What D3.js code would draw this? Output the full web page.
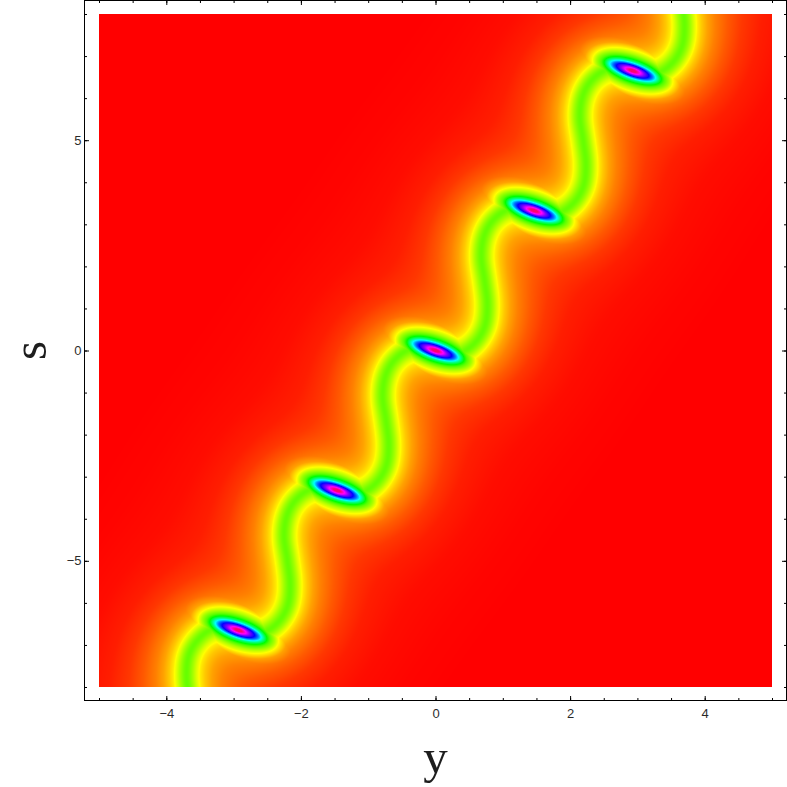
<!DOCTYPE html>
<html>
<head>
<meta charset="utf-8">
<style>
  html, body { margin: 0; padding: 0; background: #fff; }
  svg { display: block; }
  .tick text { font-family: "Liberation Sans", sans-serif; font-size: 13px; fill: #111; opacity: 0.9; }
  .axis-title { font-family: "Liberation Serif", serif; font-size: 49px; fill: #111; opacity: 0.95; }
</style>
</head>
<body>
<script src="https://cdn.jsdelivr.net/npm/d3@7"></script>
<script>
// ridge of the density (y, s)
// the ends run on past the frame so the glow does not fade at the edges
var ridgeY = [-4.395, -4.01, -3.79, -3.66, -3.61, -3.66, -3.70, -3.66, -3.52, -3.31, -2.93,
  -2.56, -2.34, -2.20, -2.16, -2.20, -2.25, -2.20, -2.07, -1.85, -1.465,
  -1.095, -0.875, -0.735, -0.695, -0.735, -0.785, -0.735, -0.605, -0.385, 0,
  0.37, 0.59, 0.73, 0.77, 0.73, 0.68, 0.73, 0.86, 1.08, 1.465,
  1.835, 2.055, 2.195, 2.235, 2.195, 2.145, 2.195, 2.325, 2.545, 2.93,
  3.30, 3.52, 3.66, 3.70, 3.66, 3.61, 3.66, 3.79, 4.01, 4.395];
var ridgeS = [-9.975, -10.0, -9.76, -9.41, -8.91, -8.31, -7.72, -7.22, -6.86, -6.62, -6.65,
  -6.70, -6.46, -6.08, -5.58, -4.99, -4.39, -3.89, -3.54, -3.30, -3.325,
  -3.375, -3.135, -2.755, -2.255, -1.665, -1.065, -0.565, -0.215, 0.025, 0,
  -0.05, 0.19, 0.57, 1.07, 1.66, 2.26, 2.76, 3.11, 3.35, 3.325,
  3.275, 3.515, 3.895, 4.395, 4.985, 5.585, 6.085, 6.435, 6.675, 6.65,
  6.60, 6.84, 7.22, 7.72, 8.31, 8.91, 9.41, 9.76, 10.0, 9.975];

// peaks along the ridge
var peakY = [-2.93, -1.465, 0, 1.465, 2.93];
var peakS = [-6.65, -3.325, 0, 3.325, 6.65];

// tick labels
var xMajor = [-4, -2, 0, 2, 4];
var xMinor = [-5, -4.5, -4, -3.5, -3, -2.5, -2, -1.5, -1, -0.5, 0, 0.5, 1, 1.5, 2, 2.5, 3, 3.5, 4, 4.5, 5];
var yMajor = [-5, 0, 5];
var yMinor = [-8, -7, -6, -5, -4, -3, -2, -1, 0, 1, 2, 3, 4, 5, 6, 7, 8];

var size = 787;
var plot = {left: 99, right: 772, top: 14, bottom: 687};
var frame = {left: 84.5, right: 786.5, top: 0.5, bottom: 700.5};

var x = d3.scaleLinear().domain([-5, 5]).range([plot.left, plot.right]);
var y = d3.scaleLinear().domain([-8, 8]).range([plot.bottom, plot.top]);

// pixels away from the ridge -> hue
var ridgeHue = d3.scaleLinear()
    .domain([3, 7, 10, 12, 14, 18, 24, 32, 45, 60, 80, 110, 150, 190])
    .range([96, 81, 69, 62, 55, 47, 38, 30, 21, 13, 7, 3, 1, 0])
    .clamp(true);
// hue of a contour around a peak -> its two radii in pixels
var contourHues = [0, 25, 38, 60, 80, 100, 120, 150, 180, 210, 240, 270, 300, 335];
var peakRx = d3.scaleLinear().domain(contourHues)
    .range([80, 60, 50, 42, 38, 33, 30, 27, 24, 21, 17, 12, 8, 3.5]);
var peakRy = d3.scaleLinear().domain(contourHues)
    .range([42, 32, 25, 20, 16, 13, 11, 8.8, 7.5, 6.3, 5.2, 3.8, 2.7, 1.1]);
var peakTilt = 19 * Math.PI / 180;

// hue at a point given in the frame of a peak, found by bisecting the contours
function peakHue(along, across) {
  var lo = 0, hi = 335;
  if (along * along / 6400 + across * across / 1764 >= 1) return 0;
  for (var n = 0; n < 12; n++) {
    var mid = (lo + hi) / 2;
    var a = along / peakRx(mid), b = across / peakRy(mid);
    if (a * a + b * b < 1) lo = mid; else hi = mid;
  }
  return lo;
}

var svg = d3.select("body").append("svg")
    .attr("width", size)
    .attr("height", size);

// sample the ridge curve in pixels
var ridge = d3.line()
    .x(function(d) { return x(d); })
    .y(function(d, i) { return y(ridgeS[i]); })
    .curve(d3.curveCatmullRom.alpha(0.5));

var ridgeNode = svg.append("path").attr("d", ridge(ridgeY)).attr("fill", "none").node();
var step = 2;
var samples = d3.range(0, ridgeNode.getTotalLength(), step).map(function(l) {
  return ridgeNode.getPointAtLength(l);
});
d3.select(ridgeNode).remove();
var sx = Float64Array.from(samples, function(p) { return p.x; });
var sy = Float64Array.from(samples, function(p) { return p.y; });

var peakX0 = peakY.map(function(d) { return x(d); });
var peakY0 = peakS.map(function(d) { return y(d); });
var cosT = Math.cos(peakTilt), sinT = Math.sin(peakTilt);

// colours for hues in tenths of a degree
var lut = d3.range(0, 3601).map(function(i) { return d3.rgb(d3.hsl(i / 10, 1, 0.5)); });

var w = plot.right - plot.left, h = plot.bottom - plot.top;
var canvas = d3.create("canvas").attr("width", w).attr("height", h).node();
var ctx = canvas.getContext("2d");
var img = ctx.createImageData(w, h);
var norm = step * 2 / Math.PI;
var soft = 9; // squared softening of the ridge distance

for (var j = 0; j < h; j++) {
  for (var i = 0; i < w; i++) {
    var px = plot.left + i + 0.5, py = plot.top + j + 0.5;
    // a soft nearest distance, so bends of the ridge add up into round pockets
    var sum = 0;
    for (var k = 0; k < sx.length; k++) {
      var dx = px - sx[k], dy = py - sy[k];
      var d2 = dx * dx + dy * dy + soft;
      sum += 1 / (d2 * d2);
    }
    var hue = ridgeHue(Math.pow(sum * norm, -1 / 3));
    for (var m = 0; m < peakX0.length; m++) {
      var ax = px - peakX0[m], ay = py - peakY0[m];
      var hp = peakHue(ax * cosT + ay * sinT, -ax * sinT + ay * cosT);
      if (hp > hue) hue = hp;
    }
    var c = lut[Math.round(hue * 10)];
    var o = (j * w + i) * 4;
    img.data[o] = c.r;
    img.data[o + 1] = c.g;
    img.data[o + 2] = c.b;
    img.data[o + 3] = 255;
  }
}
ctx.putImageData(img, 0, 0);

svg.append("image")
    .attr("x", plot.left)
    .attr("y", plot.top)
    .attr("width", w)
    .attr("height", h)
    .attr("href", canvas.toDataURL());

// frame and ticks
svg.append("rect")
    .attr("x", frame.left)
    .attr("y", frame.top)
    .attr("width", frame.right - frame.left)
    .attr("height", frame.bottom - frame.top)
    .attr("fill", "none")
    .attr("stroke", "#000")
    .attr("stroke-width", 1);

function addAxis(axis, tx, ty, minorValues, majorValues, padding) {
  var format = function(d) { return String(d).replace("-", "\u2212"); };
  var g = svg.append("g").attr("transform", "translate(" + tx + "," + ty + ")");
  g.append("g").call(axis.tickValues(minorValues).tickSize(-2.5).tickFormat(""));
  g.append("g").call(axis.tickValues(majorValues).tickSize(-4.5).tickPadding(padding || 3)
      .tickFormat(padding ? format : ""));
  g.selectAll(".domain").remove();
  g.selectAll("line").attr("stroke", "#000");
}

addAxis(d3.axisBottom(x), 0, frame.bottom, xMinor, xMajor, 8.5);
addAxis(d3.axisLeft(y), frame.left, 0, yMinor, yMajor, 3);
addAxis(d3.axisTop(x), 0, frame.top, xMinor, xMajor);
addAxis(d3.axisRight(y), frame.right, 0, yMinor, yMajor);

svg.append("text")
    .attr("class", "axis-title")
    .attr("x", x(0))
    .attr("y", 773)
    .attr("text-anchor", "middle")
    .text("y");

svg.append("text")
    .attr("class", "axis-title")
    .attr("transform", "translate(46," + y(0) + ") rotate(-90)")
    .attr("text-anchor", "middle")
    .text("s");
</script>
</body>
</html>
